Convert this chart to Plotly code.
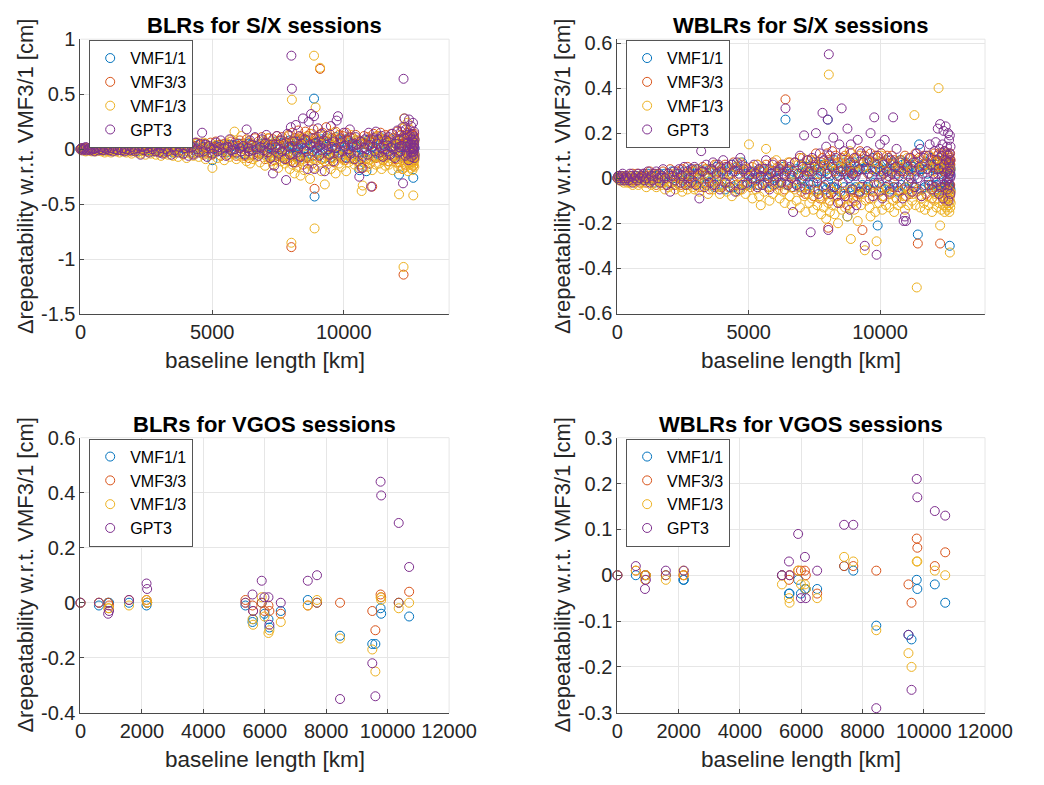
import plotly.graph_objects as go

# ---------------- series / styling ----------------
series_names = ["VMF1/1", "VMF3/3", "VMF1/3", "GPT3"]
series_colors = ["#0072BD", "#D95319", "#EDB120", "#7E2F8E"]

panel_titles = ["BLRs for S/X sessions", "WBLRs for S/X sessions",
                "BLRs for VGOS sessions", "WBLRs for VGOS sessions"]
x_label = "baseline length [km]"
y_label = "\u0394repeatability w.r.t. VMF3/1 [cm]"

# ---------------- S/X sessions: baseline lengths [km] ----------------
bl_sx = [
    0, 30, 70, 110, 150, 200, 240, 290, 330, 380,
    430, 480, 530, 580, 640, 690, 750, 800, 860, 920,
    980, 1040, 1100, 1160, 1230, 1290, 1350, 1420, 1480, 1550,
    1610, 1680, 1740, 1810, 1880, 1940, 2010, 2080, 2150, 2210,
    2280, 2340, 2410, 2470, 2540, 2600, 2670, 2730, 2800, 2860,
    2930, 2990, 3060, 3120, 3190, 3250, 3320, 3380, 3450, 3510,
    3580, 3640, 3710, 3770, 3840, 3900, 3970, 4030, 4100, 4160,
    4230, 4290, 4360, 4420, 4490, 4550, 4620, 4680, 4750, 4810,
    4880, 4940, 5010, 5070, 5140, 5200, 5270, 5330, 5400, 5460,
    5530, 5590, 5660, 5720, 5790, 5850, 5920, 5980, 6050, 6110,
    6180, 6240, 6310, 6370, 6400, 6440, 6500, 6560, 6630, 6690,
    6760, 6820, 6890, 6950, 7010, 7060, 7110, 7160, 7210, 7260,
    7310, 7360, 7410, 7460, 7510, 7560, 7610, 7660, 7710, 7760,
    7810, 7860, 7910, 7950, 7990, 8010, 8030, 8050, 8090, 8130,
    8180, 8220, 8270, 8310, 8360, 8400, 8450, 8490, 8540, 8580,
    8630, 8670, 8720, 8760, 8810, 8850, 8870, 8890, 8930, 8980,
    9020, 9070, 9100, 9150, 9190, 9240, 9280, 9330, 9370, 9420,
    9460, 9510, 9550, 9600, 9640, 9690, 9730, 9780, 9820, 9870,
    9910, 9960, 10000, 10050, 10090, 10140, 10180, 10230, 10270, 10320,
    10360, 10410, 10450, 10500, 10540, 10590, 10630, 10680, 10720, 10770,
    10810, 10860, 10900, 10950, 10990, 11040, 11080, 11130, 11170, 11220,
    11260, 11310, 11350, 11400, 11440, 11490, 11530, 11580, 11620, 11670,
    11710, 11760, 11800, 11850, 11890, 11940, 11980, 12030, 12070, 12100,
    12120, 12150, 12180, 12200, 12230, 12250, 12270, 12290, 12310, 12340,
    12360, 12380, 12400, 12420, 12440, 12460, 12480, 12500, 12520, 12540,
    12550, 12560, 12570, 12580, 12590, 12600, 12610, 12620, 12630, 12640,
    12645, 12650, 12655, 12660, 12665, 12670, 12675, 12680, 12685, 12690,
]

# BLR, S/X sessions [cm]
blr_sx_vmf11 = [
    0, 0, 0, .01, 0, -.01, 0, 0, .01, 0,
    -.01, .01, 0, 0, .01, -.01, .01, 0, 0, -.01,
    .01, 0, -.01, .01, 0, .01, -.01, 0, .01, -.01,
    0, .01, -.01, .01, 0, .02, -.01, 0, .01, -.02,
    .01, -.01, .02, 0, -.01, .02, 0, -.02, .01, .01,
    -.01, .02, 0, -.02, .03, .01, -.01, .02, 0, -.03,
    .02, -.02, .03, .01, -.03, .02, 0, .04, -.02, .01,
    -.03, .03, .01, -.02, .04, 0, -.03, .02, .05, -.01,
    .02, -.03, -.10, .01, .03, -.02, .01, .04, -.01, .02,
    -.03, .02, .04, -.01, .03, 0, -.04, .02, .05, -.02,
    .03, -.04, .01, .05, -.02, .04, 0, -.05, .03, .01,
    -.04, .05, .01, -.03, .06, .02, -.05, .04, 0, -.06,
    .05, -.03, .07, .01, -.06, .04, .02, -.07, .06, -.01,
    .06, -.05, .03, .08, -.04, .05, .01, -.06, .07, .02,
    -.06, .07, .03, -.08, .05, .09, -.03, .06, .01, -.07,
    .08, -.04, .05, .10, -.06, .03, .46, -.43, .05, -.02,
    .07, -.05, .04, .09, -.03, .06, -.08, .02, .10, -.05,
    .05, -.07, .03, .08, -.04, .11, .01, -.06, .05, .07,
    -.05, .06, .02, -.07, .09, .04, -.03, .06, -.08, .03,
    .06, -.04, .08, .02, -.06, -.19, .05, -.08, .07, -.03,
    .05, -.20, .04, .09, -.05, .06, .02, -.07, .08, .01,
    -.04, .07, .03, -.06, .10, .05, -.02, .08, -.05, .04,
    .06, -.05, .09, .02, -.07, .05, .01, -.04, .08, -.23,
    .05, -.06, .07, .03, -.05, .09, .02, -.06, .06, .04,
    -.07, .06, .10, -.04, .07, .01, -.08, .05, .07, -.03,
    .06, -.05, .08, .02, -.06, .04, .07, -.03, .05, -.26,
    .06, -.04, .03, .07, -.05, .05, -.02, .08, .01, -.05,
]
blr_sx_vmf33 = [
    0, 0, .01, 0, -.01, .01, 0, .01, -.01, 0,
    .01, 0, .01, -.01, 0, .02, 0, -.01, .01, 0,
    -.01, .01, .02, 0, -.01, .01, .02, -.01, 0, .01,
    .02, -.01, .01, 0, .02, -.02, .01, 0, -.01, .02,
    0, .03, -.01, .01, -.02, .02, 0, .03, -.02, .01,
    .03, -.02, .01, .04, -.03, .02, 0, .04, -.01, .03,
    -.03, .02, .05, -.01, .03, -.04, .04, .01, -.02, .05,
    .02, -.04, .03, .06, -.02, .04, .01, -.05, .05, .02,
    -.03, .06, -.05, .02, .07, -.01, .04, -.06, .03, .05,
    .04, -.05, .02, .07, -.03, .06, -.06, .03, .08, -.02,
    .05, -.06, .09, .02, -.08, .06, .03, -.05, .10, -.03,
    .07, -.04, .11, .02, -.09, .06, -.03, .10, .04, -.07,
    .09, -.10, .04, .12, -.06, .08, -.03, .11, -.08, .05,
    .06, -.09, .13, .03, -.11, -.89, .07, .15, -.05, .10,
    -.12, .08, .17, -.06, .11, .03, -.14, .09, .16, -.08,
    .12, -.07, .14, .05, -.13, .18, .06, -.36, .10, -.04,
    .08, .13, .73, -.09, .15, .05, -.11, .20, .07, -.06,
    .14, -.08, .10, .03, -.12, .16, .06, -.05, .13, .09,
    -.07, .12, .04, -.10, .15, .08, -.05, .11, .02, -.09,
    .10, -.06, .13, .04, -.11, .08, -.14, .06, -.17, .12,
    .05, -.09, .11, .03, -.13, .09, -.34, .14, .06, -.08,
    .12, .04, -.07, .15, .02, -.10, .09, .13, -.05, .07,
    -.11, .08, .14, -.06, .10, .03, -.09, .16, .05, -.12,
    .09, -.07, .13, .04, -.18, .11, -1.14, .06, .20, -.14,
    .07, .12, -.09, .15, .03, -.06, .11, .18, -.12, .05,
    .10, -.08, .14, .02, -.11, .09, .06, -.05, .13, -.15,
    .04, -.07, .12, .08, -.10, .06, .14, -.04, .09, -.06,
]
blr_sx_vmf13 = [
    0, -.01, 0, -.01, .01, -.02, 0, -.01, .01, -.01,
    -.02, .01, -.01, -.02, 0, -.01, .01, -.02, 0, -.03,
    .01, -.02, 0, -.03, -.01, .01, -.02, 0, -.03, .01,
    -.02, 0, -.03, .01, -.02, -.04, 0, .02, -.03, -.01,
    -.04, .01, -.02, -.05, 0, .02, -.04, -.01, .01, -.05,
    -.02, .03, -.06, 0, -.04, .02, -.05, -.01, .03, -.06,
    -.03, .01, -.07, .04, -.02, -.05, .02, -.08, 0, -.04,
    .03, -.06, -.02, .05, -.07, .01, -.04, .06, -.09, -.01,
    -.05, .02, -.17, -.03, .04, -.08, .01, -.06, .03, -.10,
    -.02, .05, -.07, .09, -.04, .16, -.09, .02, -.06, .12,
    -.08, .03, -.11, .07, -.05, -.13, .04, -.09, .01, -.07,
    .05, -.12, -.03, .08, -.15, -.06, .10, -.08, -.02, -.11,
    -.14, .06, -.09, -.04, -.17, .03, -.11, .08, -.06, -.13,
    -.10, -.05, .12, -.18, -.08, -.85, .45, -.14, .06, -.22,
    -.07, -.16, .09, -.11, -.24, .04, -.09, -.19, .11, -.05,
    -.13, .07, -.27, -.08, .14, -.17, .85, -.72, .38, -.10,
    -.15, .05, .74, -.20, -.09, .12, -.32, -.06, -.14, .08,
    -.11, -.18, .03, -.08, .15, -.22, -.05, .10, -.13, -.07,
    -.16, .06, -.10, -.04, -.20, .09, -.12, -.07, .13, -.09,
    -.06, -.14, .08, -.11, -.03, -.17, .05, -.38, -.33, -.09,
    -.12, .07, -.16, -.05, -.10, .04, -.19, -.08, .11, -.14,
    -.07, .12, -.13, -.04, -.18, .06, -.09, -.15, .02, -.11,
    -.14, .05, -.08, -.19, .10, -.06, -.12, .03, -.17, -.41,
    -.09, .07, -.15, -.05, .19, -.18, -1.07, .28, -.12, -.07,
    -.16, .04, -.10, .24, -.20, -.08, .13, -.14, -.04, -.11,
    .06, -.17, -.09, .11, -.13, -.05, -.19, .08, -.12, -.42,
    -.08, .05, -.14, -.06, .10, -.11, -.03, -.16, .07, -.09,
]
blr_sx_gpt3 = [
    0, .01, -.01, 0, .01, .02, -.01, 0, .01, -.01,
    .01, 0, -.02, .01, .02, -.01, 0, .02, -.01, .01,
    0, .02, -.01, .01, -.02, .03, 0, -.01, .02, -.01,
    .01, -.02, 0, .03, -.01, .02, 0, -.02, .01, .03,
    -.05, .02, -.01, .03, .01, -.03, .02, 0, .03, -.02,
    .04, -.03, .01, -.04, .06, 0, -.02, .04, -.05, .02,
    -.01, .05, -.03, .02, .07, -.04, .01, .03, -.06, .04,
    .02, -.05, .06, 0, -.03, .05, .15, -.02, .04, -.07,
    .03, .01, -.04, 0, .06, -.02, .02, .08, -.03, .01,
    -.06, .02, .09, -.01, .04, 0, -.03, .05, .01, -.02,
    .03, -.05, .18, .01, -.02, .08, .04, -.01, .11, 0,
    -.06, .02, .09, -.01, .05, .13, -.03, .01, -.08, .04,
    -.22, -.15, .02, .12, -.04, 0, .08, -.02, .05, -.09,
    -.28, .14, .02, -.05, .20, .85, .55, .03, -.12, .07,
    .22, -.03, .01, .12, -.07, .05, .28, 0, .09, -.02,
    -.18, .25, .04, .32, -.02, .10, .30, -.18, .06, .01,
    .19, -.06, .03, .14, -.01, .08, -.20, .04, .12, 0,
    -.05, .21, .02, -.11, .07, .01, .26, .30, -.03, .10,
    .06, -.02, .15, .03, -.08, .09, 0, .18, -.04, .05,
    .02, -.09, .11, .04, -.03, -.25, .07, -.17, -.06, .01,
    .09, 0, -.05, .15, .04, -.34, .02, .10, -.02, .16,
    .05, .09, -.03, .01, .12, -.07, .03, 0, .08, -.02,
    .11, -.05, .02, .14, 0, -.08, .05, .17, -.03, .02,
    .08, -.02, .16, .03, .20, -.31, .64, .10, .28, -.06,
    .18, .02, -.04, .13, .06, -.10, .27, 0, .12, -.03,
    .05, .21, -.07, .09, .01, .14, -.03, .07, .24, 0,
    -.05, .11, .02, .06, -.02, .16, .04, -.08, .09, .01,
]

# WBLR, S/X sessions [cm]
wblr_sx_vmf11 = [
    0, 0, .01, 0, 0, .01, -.01, 0, .01, 0,
    .01, 0, 0, -.01, .01, 0, .01, -.01, 0, .01,
    -.01, .01, 0, .02, -.01, 0, .01, -.02, .01, 0,
    .02, 0, -.01, .02, 0, -.02, .01, .03, -.01, 0,
    -.02, .02, .01, -.01, .03, 0, -.02, .02, .04, -.01,
    .02, -.03, .04, 0, -.02, .03, .01, -.03, .02, .04,
    -.02, .03, -.04, .05, .01, -.03, .04, .02, -.05, .03,
    .04, -.02, .06, -.04, .03, .05, -.05, .04, .07, -.03,
    .02, -.03, .01, .02, -.02, .03, 0, -.03, .04, .01,
    -.03, .03, .01, -.02, .04, .02, -.03, .03, 0, -.02,
    .03, -.02, .05, .01, .26, -.03, .04, .02, -.04, .03,
    -.02, .04, .01, -.04, .06, 0, -.04, .03, .05, -.02,
    .05, -.03, .02, .07, -.05, .04, .01, -.05, .06, .02,
    -.04, .06, .03, -.05, .04, .26, -.02, .07, .01, -.04,
    .06, -.04, .08, .02, -.05, .04, .01, -.06, .05, .03,
    -.04, .07, .02, -.17, .05, .03, -.04, .06, .01, -.05,
    .07, -.04, .03, .05, -.06, .04, .08, -.03, .04, -.05,
    .05, -.04, .07, .02, -.05, .04, .09, -.02, .04, .06,
    -.21, .05, .03, -.04, .07, .02, -.05, .04, .08, -.03,
    .04, -.05, .03, .07, -.04, .05, .02, -.06, .04, .08,
    -.03, .06, .02, -.04, .07, .04, -.05, .03, .06, -.02,
    .05, -.04, .07, .03, -.25, .15, .04, -.05, .04, .06,
    -.04, .07, .02, -.03, .06, .09, -.03, .05, -.06, .04,
    .06, -.03, .04, .08, -.05, .04, .07, -.02, .05, -.04,
    .04, -.06, .08, .03, -.04, .06, .02, -.04, .07, .05,
    -.05, .04, .03, .07, -.04, .06, -.02, .05, .04, -.04,
    .06, -.03, -.30, .04, .07, -.04, .05, .02, -.05, .04,
]
wblr_sx_vmf33 = [
    0, .01, 0, 0, .01, -.01, 0, .01, 0, -.01,
    0, .01, -.01, .02, 0, -.01, .02, 0, -.02, .01,
    0, .02, -.02, .01, .03, -.01, .02, 0, -.03, .02,
    .01, -.02, .03, 0, -.03, .02, .04, -.02, .01, -.03,
    .03, 0, -.03, .04, -.02, .02, .05, -.03, .01, .03,
    -.02, .04, .01, -.04, .03, .05, -.02, .04, 0, -.05,
    .04, -.03, .06, -.01, .03, .05, -.04, .02, .06, -.02,
    .05, -.04, .02, .07, -.03, .04, .01, -.05, .06, .03,
    -.03, .04, .01, -.04, .05, .02, -.01, .06, -.03, .03,
    .04, -.02, .06, .01, -.04, .03, .07, -.03, .02, .05,
    -.03, .06, .02, -.05, .35, .04, -.02, .07, .01, -.04,
    .07, -.03, .02, .09, -.06, .04, .01, -.07, .08, .03,
    -.05, .08, .03, -.08, .06, .11, -.02, .05, -.09, .07,
    .09, -.04, .06, -.07, .11, .02, -.22, .08, -.10, .05,
    .12, -.06, .03, .10, -.08, .07, .01, -.11, .09, .04,
    -.07, .10, .05, -.12, .08, .03, -.06, .11, .02, -.09,
    .06, -.10, .09, .03, -.07, .12, -.04, -.23, .07, .10,
    -.05, .08, .02, -.09, .11, .04, -.06, .07, .10, -.03,
    .09, -.06, .04, .11, -.08, .02, .07, -.04, .10, .01,
    -.07, .06, .10, -.04, .08, .01, -.09, .05, .03, -.06,
    .08, -.05, .03, .10, -.08, .06, .01, -.07, .09, .04,
    -.04, .07, .11, -.06, -.29, .09, .03, -.08, .05, .10,
    .06, -.07, .04, .10, -.03, .08, -.09, .05, .11, -.04,
    .08, -.05, .10, .02, -.07, .11, .04, -.29, .09, .06,
    -.08, .10, .05, -.04, .12, .03, -.10, .07, .09, -.02,
    .06, -.07, .11, .04, -.09, .08, .02, -.05, .10, .07,
    -.04, .09, .05, -.08, .07, .11, -.03, .06, -.06, .08,
]
wblr_sx_vmf13 = [
    0, 0, -.01, .01, -.01, 0, -.02, .01, -.01, -.02,
    .01, -.02, 0, -.03, .01, -.02, 0, -.03, .01, -.01,
    -.02, 0, -.04, -.01, .01, -.03, -.02, 0, -.04, -.01,
    .01, -.03, -.02, -.05, 0, -.04, .02, -.03, -.01, -.05,
    -.02, .02, -.04, -.06, .01, -.03, -.05, .02, -.02, -.04,
    -.05, .03, -.03, -.06, .02, -.04, .04, -.02, -.07, -.01,
    .03, -.05, -.02, .06, -.04, -.07, .01, -.03, .05, -.06,
    -.04, .02, -.08, -.01, .05, -.06, -.03, .07, -.05, -.02,
    -.07, .04, .15, -.03, -.09, .02, -.05, .06, -.08, -.12,
    .05, -.06, .13, -.04, -.10, .03, -.07, -.02, .08, -.05,
    -.09, .04, -.06, -.11, .62, -.03, .07, -.08, -.12, .02,
    -.05, -.10, .06, -.13, -.04, .09, -.08, -.15, .03, -.07,
    -.11, .05, -.09, -.14, .08, -.06, -.12, .02, -.08, -.16,
    -.09, -.13, .06, -.18, -.07, .04, -.11, .46, -.15, -.05,
    -.12, .07, -.16, -.08, -.03, -.20, .05, -.10, -.14, .08,
    -.06, -.13, .09, -.17, -.09, .12, -.05, -.27, -.11, .03,
    -.14, .06, -.08, -.19, -.04, .10, -.12, -.07, .05, -.32,
    -.10, -.05, .08, -.13, -.17, .04, -.09, -.03, -.15, -.28,
    .07, -.11, -.06, .10, -.14, -.08, .03, -.12, -.05, .09,
    -.13, -.07, .06, -.10, -.15, .04, -.09, -.12, .07, -.06,
    -.11, .05, -.08, -.14, -.04, .09, -.12, -.06, .03, -.10,
    -.07, .28, -.12, -.485, -.05, .08, -.13, -.09, .05, -.11,
    -.14, .06, -.08, -.12, .10, -.05, -.15, .03, -.10, -.07,
    .07, -.13, -.09, .05, .40, -.11, -.06, -.21, .09, -.14,
    -.08, .11, -.12, -.05, .07, -.15, -.09, .04, -.13, -.06,
    -.11, .06, -.14, -.08, .10, -.05, -.12, .03, -.09, -.15,
    -.07, .05, -.605, -.33, -.10, .08, -.13, -.06, .04, -.11,
]
wblr_sx_gpt3 = [
    0, .01, 0, -.01, .01, .02, 0, -.01, .01, 0,
    -.01, .02, .01, -.02, 0, .01, -.01, .02, 0, .01,
    .02, -.01, 0, .03, -.02, .01, -.01, .02, .03, 0,
    -.02, .01, .04, 0, -.03, .02, -.06, .01, .03, -.01,
    .02, .04, -.02, .01, .05, -.03, .03, 0, -.02, .04,
    .05, -.03, .02, -.09, .12, .03, -.04, .06, .01, -.02,
    .04, .07, -.03, .02, .06, -.05, .03, .08, -.02, .05,
    .01, -.04, .06, .03, -.06, .07, .02, .09, -.03, .04,
    .05, -.02, .01, .03, 0, .06, .02, -.04, .04, .01,
    -.03, .04, .08, 0, -.05, .02, .06, -.01, .03, .01,
    .04, -.02, .06, .01, .31, .03, -.03, .05, 0, -.15,
    .07, -.03, .02, .10, -.01, .05, .19, -.05, .01, .08,
    .03, -.24, .09, -.02, .05, .20, 0, -.07, .11, .03,
    .29, .08, -.03, .14, .02, .26, -.23, .55, .10, -.07,
    .05, .18, -.04, .09, .01, -.11, .15, .03, .31, -.02,
    .12, -.08, .03, .22, 0, -.14, .07, .15, -.05, .02,
    .09, .01, -.12, .17, .04, -.06, .11, 0, .07, -.30,
    .04, .12, -.03, .08, .20, .01, -.08, .27, .03, -.34,
    .10, -.02, .15, .01, -.09, .06, .17, 0, .03, .09,
    -.06, .08, .02, .27, -.02, .05, .13, -.04, .01, .07,
    .03, -.09, -.19, -.17, -.19, .05, -.02, .09, 0, -.06,
    .07, .01, -.04, .11, 0, .05, .13, -.08, .02, .09,
    -.03, .10, .04, -.01, .15, .06, -.05, .02, .12, 0,
    .16, -.02, .08, .22, .04, -.07, .13, .24, -.04, .10,
    .01, .15, -.09, .21, .06, .12, -.03, .23, .08, -.01,
    .14, .03, -.05, .10, .20, 0, -.10, .07, .17, .02,
    -.03, .11, .05, .19, 0, .08, .03, -.07, .14, .01,
]

# ---------------- VGOS sessions ----------------
bl_vgos = [0, 600, 900, 930, 1580, 2150, 2170, 5370, 5600, 5620, 5900, 5990,
           6120, 6150, 6520, 7400, 7700, 8450, 9500, 9600, 9770, 9790, 10360, 10700]

blr_vgos_vmf11 = [0, -.01, 0, 0, 0, -.01, 0, -.01, -.07, -.06, 0, -.04,
                  -.06, -.09, -.03, .01, 0, -.12, -.15, -.15, -.02, -.04, 0, -.05]
blr_vgos_vmf33 = [0, 0, 0, -.01, .01, .01, 0, .01, -.01, -.03, 0, -.03,
                  -.01, -.03, -.04, -.01, 0, 0, -.03, -.10, .03, .02, 0, .04]
blr_vgos_vmf13 = [0, 0, -.02, -.02, -.01, .01, 0, 0, -.06, -.08, .02, -.05,
                  -.11, -.10, -.07, -.01, .01, -.13, -.17, -.25, .02, .01, -.02, 0]
blr_vgos_gpt3 = [0, 0, -.04, -.03, .01, .07, .05, 0, .03, -.03, .08, .02,
                 .02, -.08, 0, .08, .10, -.35, -.22, -.34, .44, .39, .29, .13]

wblr_vgos_vmf11 = [0, 0, 0, 0, 0, -.01, -.01, 0, -.04, -.04, -.01, -.04,
                   -.03, -.03, -.03, .02, .01, -.11, -.13, -.14, -.01, -.03, -.02, -.06]
wblr_vgos_vmf33 = [0, .01, 0, 0, 0, 0, 0, 0, -.01, 0, .01, .01,
                   .01, 0, -.04, .02, .02, .01, -.02, -.06, .08, .06, .02, .05]
wblr_vgos_vmf13 = [0, .01, -.01, 0, -.01, .01, 0, -.02, -.05, -.06, .01, -.02,
                   -.02, -.03, -.05, .04, .03, -.12, -.17, -.20, .03, .03, .01, 0]
wblr_vgos_gpt3 = [0, .02, -.03, -.01, .01, .08, .01, 0, .03, 0, .09, -.05,
                  .04, -.05, .01, .11, .11, -.29, -.13, -.25, .21, .17, .14, .13]

# ---------------- axis ticks ----------------
xt_sx = [0, 5000, 10000]
xt_sx_text = ["0", "5000", "10000"]
xt_vgos = [0, 2000, 4000, 6000, 8000, 10000, 12000]
xt_vgos_text = ["0", "2000", "4000", "6000", "8000", "10000", "12000"]
yt_1 = [-1.5, -1, -0.5, 0, 0.5, 1]
yt_1_text = ["-1.5", "-1", "-0.5", "0", "0.5", "1"]
yt_2 = [-0.6, -0.4, -0.2, 0, 0.2, 0.4, 0.6]
yt_2_text = ["-0.6", "-0.4", "-0.2", "0", "0.2", "0.4", "0.6"]
yt_3 = [-0.4, -0.2, 0, 0.2, 0.4, 0.6]
yt_3_text = ["-0.4", "-0.2", "0", "0.2", "0.4", "0.6"]
yt_4 = [-0.3, -0.2, -0.1, 0, 0.1, 0.2, 0.3]
yt_4_text = ["-0.3", "-0.2", "-0.1", "0", "0.1", "0.2", "0.3"]

# ---------------- figure ----------------
W, H = 1044, 785
FONT = "Liberation Sans, Arial, Helvetica, sans-serif"

panels = [
    dict(x=bl_sx, ys=[blr_sx_vmf11, blr_sx_vmf33, blr_sx_vmf13, blr_sx_gpt3], ax="", lg="legend"),
    dict(x=bl_sx, ys=[wblr_sx_vmf11, wblr_sx_vmf33, wblr_sx_vmf13, wblr_sx_gpt3], ax="2", lg="legend2"),
    dict(x=bl_vgos, ys=[blr_vgos_vmf11, blr_vgos_vmf33, blr_vgos_vmf13, blr_vgos_gpt3], ax="3", lg="legend3"),
    dict(x=bl_vgos, ys=[wblr_vgos_vmf11, wblr_vgos_vmf33, wblr_vgos_vmf13, wblr_vgos_gpt3], ax="4", lg="legend4"),
]

fig = go.Figure()
for p in panels:
    for name, col, ys in zip(series_names, series_colors, p["ys"]):
        fig.add_trace(go.Scatter(
            x=p["x"], y=ys, mode="markers", name=name,
            xaxis="x" + p["ax"], yaxis="y" + p["ax"], legend=p["lg"],
            cliponaxis=False,
            marker=dict(symbol="circle-open", size=9, color=col, line=dict(width=1, color=col)),
        ))

# panel geometry in pixels: (left, right, top, bottom)
geo = [(77, 458, 29, 312), (632, 1012, 29, 312), (77, 458, 439, 722), (632, 1012, 439, 722)]
xranges = [[0, 14000], [0, 14000], [0, 12000], [0, 12000]]
yranges = [[-1.5, 1], [-0.604, 0.617], [-0.4, 0.6], [-0.3, 0.3]]
xticks = [(xt_sx, xt_sx_text), (xt_sx, xt_sx_text), (xt_vgos, xt_vgos_text), (xt_vgos, xt_vgos_text)]
yticks = [(yt_1, yt_1_text), (yt_2, yt_2_text), (yt_3, yt_3_text), (yt_4, yt_4_text)]

layout = dict(width=W, height=H, margin=dict(l=0, r=0, t=0, b=0),
              paper_bgcolor="white", plot_bgcolor="white",
              font=dict(family=FONT, color="#262626"), showlegend=True)
annotations = []
shapes = []
AXC = "#4a4a4a"
GRID = "#e6e6e6"
TICKF = dict(size=20, family=FONT, color="#262626")
for i, (l, r, t, b) in enumerate(geo):
    s = "" if i == 0 else str(i + 1)
    layout["xaxis" + s] = dict(
        domain=[l / W, r / W], range=xranges[i], anchor="y" + s,
        tickvals=xticks[i][0], ticktext=xticks[i][1],
        showgrid=True, gridcolor=GRID, zeroline=False,
        showline=True, linecolor=AXC, linewidth=1,
        ticks="inside", ticklen=4, tickcolor=AXC, tickfont=TICKF,
    )
    layout["yaxis" + s] = dict(
        domain=[1 - b / H, 1 - t / H], range=yranges[i], anchor="x" + s,
        tickvals=yticks[i][0], ticktext=yticks[i][1],
        showgrid=True, gridcolor=GRID, zeroline=False,
        showline=True, linecolor=AXC, linewidth=1,
        ticks="inside", ticklen=4, tickcolor=AXC, tickfont=TICKF,
    )
    shapes.append(dict(type="line", xref="x" + s + " domain", yref="y" + s + " domain",
                       x0=0, x1=1, y0=1, y1=1, line=dict(color=GRID, width=1)))
    shapes.append(dict(type="line", xref="x" + s + " domain", yref="y" + s + " domain",
                       x0=1, x1=1, y0=0, y1=1, line=dict(color=GRID, width=1)))
    cx = (l + r) / 2 / W
    annotations.append(dict(text="<b>" + panel_titles[i] + "</b>", xref="paper", yref="paper",
                            x=cx, y=1 - (t - 14) / H, xanchor="center", yanchor="middle",
                            showarrow=False, font=dict(size=22, family=FONT, color="black")))
    annotations.append(dict(text=x_label, xref="paper", yref="paper",
                            x=cx, y=1 - (b + 48) / H, xanchor="center", yanchor="middle",
                            showarrow=False, font=dict(size=22.5, family=FONT, color="#262626")))
    annotations.append(dict(text=y_label, xref="paper", yref="paper",
                            x=(l - 57) / W, y=1 - (t + b) / 2 / H, xanchor="center", yanchor="middle",
                            textangle=-90, showarrow=False,
                            font=dict(size=22, family=FONT, color="#262626")))
    layout["legend" if i == 0 else "legend" + str(i + 1)] = dict(
        x=(l + 9) / W, y=1 - (t + 1) / H, xanchor="left", yanchor="top",
        bgcolor="white", bordercolor="#555555", borderwidth=1,
        font=dict(size=16, family=FONT, color="black"),
        itemwidth=30, tracegroupgap=0,
    )

layout["annotations"] = annotations
layout["shapes"] = shapes
fig.update_layout(**layout)
fig.write_html("out.html")
